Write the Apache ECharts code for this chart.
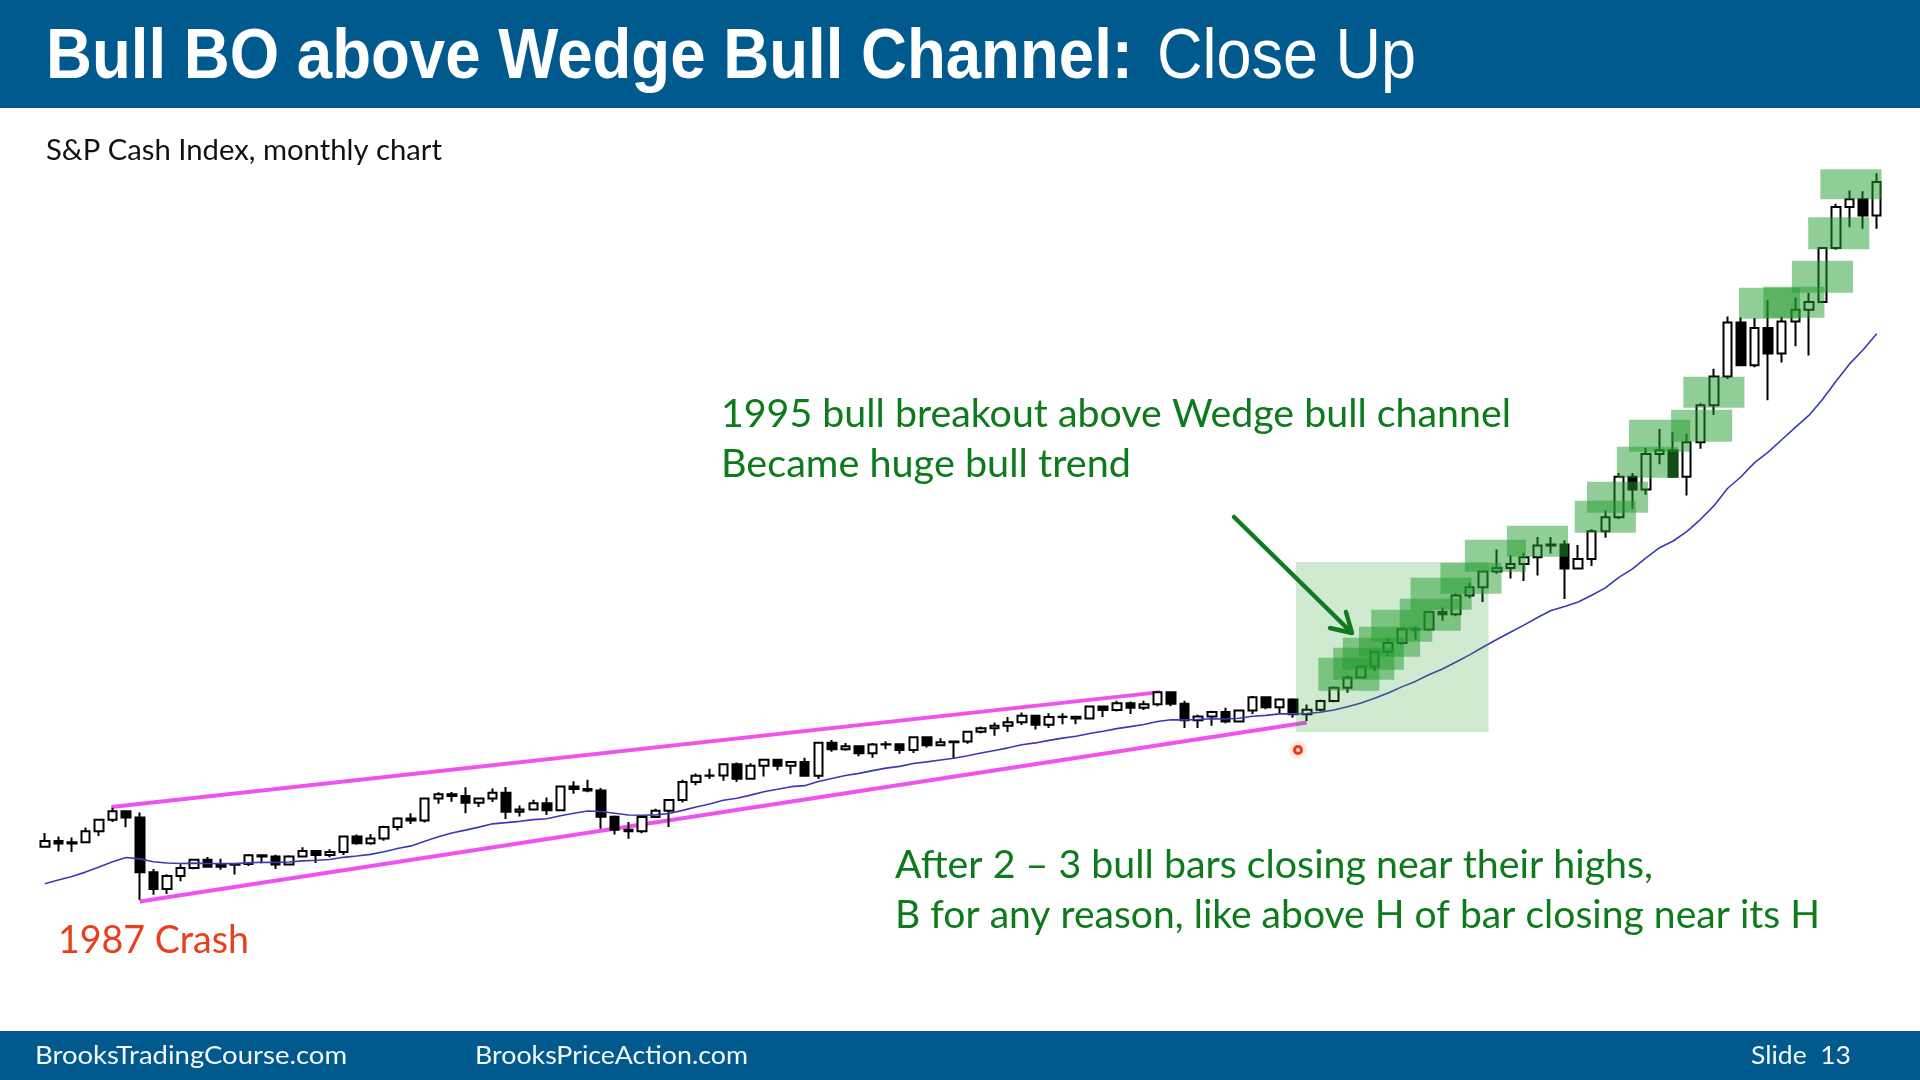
<!DOCTYPE html>
<html><head><meta charset="utf-8">
<script src="https://cdn.jsdelivr.net/npm/echarts@6/dist/echarts.min.js"></script>
<style>html,body{margin:0;padding:0;background:#fff}#c{width:1920px;height:1080px}</style>
</head><body><div id="c"></div>
<script>
// ---- DATA (S&P cash index, monthly, Mar 1987 .. Jun 1998) ----
const startYear = 1987, startMonth = 3, barCount = 136;
const months = [];
for (let i = 0; i < barCount; i++) {
  const m = (startMonth - 1 + i) % 12 + 1, y = startYear + Math.floor((startMonth - 1 + i) / 12);
  months.push(y + '-' + (m < 10 ? '0' : '') + m);
}
const opens = [
  284.2,291.7,288.4,290.1,304.0,318.7,329.8,321.8,251.8,230.3,
  247.1,257.1,267.8,258.9,261.3,262.2,273.5,272.0,261.5,271.9,279.0,273.7,
  277.7,297.5,288.9,294.9,309.6,320.5,318.0,346.1,351.5,349.2,340.4,346.0,
  353.4,329.1,331.9,339.9,330.8,361.2,358.0,356.2,322.6,306.1,304.0,322.2,
  330.2,343.9,367.1,375.2,375.4,389.8,371.2,387.8,395.4,387.9,392.5,375.2,
  417.1,408.8,412.7,403.7,415.0,415.4,408.1,424.2,414.0,417.8,418.7,431.4,
  435.7,438.8,443.4,451.7,440.2,450.2,450.5,448.1,463.6,458.9,467.8,461.8,
  466.5,481.6,467.1,445.8,450.9,456.5,444.3,458.3,475.5,462.7,472.4,453.7,
  459.3,470.4,487.4,500.7,514.7,533.4,544.8,562.1,561.9,584.4,581.5,605.4,
  615.9,636.0,640.4,645.5,654.2,669.1,670.6,640.0,652.0,687.3,705.3,757.0,
  740.7,786.2,790.8,757.1,801.3,848.3,885.1,954.3,899.5,947.3,914.6,955.4,
  970.4,980.3,1049.3,1101.8,1111.8,1090.8
];
const closes = [
  291.7,288.4,290.1,304.0,318.7,329.8,321.8,251.8,230.3,247.1,
  257.1,267.8,258.9,261.3,262.2,273.5,272.0,261.5,271.9,279.0,273.7,277.7,
  297.5,288.9,294.9,309.6,320.5,318.0,346.1,351.5,349.2,340.4,346.0,353.4,
  329.1,331.9,339.9,330.8,361.2,358.0,356.2,322.6,306.1,304.0,322.2,330.2,
  343.9,367.1,375.2,375.4,389.8,371.2,387.8,395.4,387.9,392.5,375.2,417.1,
  408.8,412.7,403.7,415.0,415.4,408.1,424.2,414.0,417.8,418.7,431.4,435.7,
  438.8,443.4,451.7,440.2,450.2,450.5,448.1,463.6,458.9,467.8,461.8,466.5,
  481.6,467.1,445.8,450.9,456.5,444.3,458.3,475.5,462.7,472.4,453.7,459.3,
  470.4,487.4,500.7,514.7,533.4,544.8,562.1,561.9,584.4,581.5,605.4,615.9,
  636.0,640.4,645.5,654.2,669.1,670.6,640.0,652.0,687.3,705.3,757.0,740.7,
  786.2,790.8,757.1,801.3,848.3,885.1,954.3,899.5,947.3,914.6,955.4,970.4,
  980.3,1049.3,1101.8,1111.8,1090.8,1133.8
];
const highs = [
  301.9,297.3,296.0,309.0,320.0,334.0,330.5,328.0,255.8,249.2,
  262.0,268.6,271.3,269.1,263.0,275.0,274.4,274.0,273.3,283.7,280.1,281.1,
  298.0,300.0,300.5,311.0,322.0,327.0,346.9,354.1,354.2,360.4,347.0,358.8,
  360.6,337.0,344.5,347.3,362.3,368.0,369.8,359.5,324.4,316.0,323.0,333.0,
  344.0,370.0,378.0,384.0,390.9,392.0,391.0,396.6,396.0,393.0,398.0,418.0,
  420.8,417.0,413.0,417.0,419.0,416.0,425.0,425.1,423.0,419.0,432.0,438.0,
  443.0,450.0,456.0,452.0,455.0,455.0,451.0,464.0,464.0,471.0,470.0,471.0,
  483.0,482.9,471.0,453.0,458.0,462.0,459.0,477.0,476.0,474.0,474.0,466.0,
  472.0,489.0,503.0,515.0,534.0,551.0,563.0,566.0,586.0,590.0,608.0,622.0,
  636.0,664.0,657.0,660.0,680.0,680.0,676.0,670.0,690.0,714.0,762.0,762.0,
  794.0,818.0,814.0,812.0,851.0,895.0,962.0,961.0,960.0,983.0,962.0,986.0,
  992.0,1050.0,1106.0,1123.0,1122.0,1145.0
];
const lows = [
  283.0,278.2,277.6,288.7,297.9,316.0,309.3,216.5,223.0,223.9,
  240.2,255.6,257.8,255.0,248.9,259.6,263.1,256.0,261.3,270.5,263.7,271.0,
  273.8,287.0,286.9,292.0,305.0,313.4,315.2,339.3,341.9,327.1,335.0,341.4,
  319.8,322.9,330.9,324.8,330.8,352.0,354.0,307.4,300.0,294.5,301.6,321.0,
  309.4,340.9,363.0,371.0,368.6,367.0,371.0,374.0,382.0,376.8,374.0,371.0,
  405.8,407.0,400.0,398.0,409.0,403.0,404.0,411.0,413.0,397.0,416.0,429.0,
  426.0,431.0,440.0,434.0,436.0,441.0,441.0,447.0,450.0,457.0,454.0,459.0,
  464.0,464.0,436.0,435.9,439.0,442.0,444.0,454.0,460.0,455.0,449.0,445.0,
  457.0,469.0,481.0,500.0,509.0,528.0,542.0,549.0,560.0,573.0,579.0,602.0,
  597.0,633.0,627.0,624.0,631.0,659.0,601.0,639.0,643.0,679.0,703.0,716.0,
  734.0,773.0,756.0,733.0,793.0,836.0,882.0,899.0,897.0,855.0,903.0,924.0,
  912.0,979.0,1047.0,1076.0,1074.0,1074.0
];
// 20-bar exponential moving average
const ema20 = [
  237.0,241.8,246.4,251.9,258.3,265.2,270.6,268.8,265.2,263.5,
  262.9,263.4,262.9,262.8,262.7,263.7,264.5,264.2,264.9,266.3,267.0,268.0,
  270.8,272.5,274.6,277.9,282.0,285.4,291.2,297.0,302.0,305.6,309.4,313.6,
  315.1,316.8,319.0,320.1,324.0,327.2,330.0,329.3,327.1,324.9,324.6,325.1,
  326.9,330.8,335.0,338.9,343.7,346.3,350.3,354.6,357.8,361.1,362.4,367.6,
  371.5,375.4,378.1,381.6,384.8,387.0,390.6,392.8,395.2,397.4,400.6,404.0,
  407.3,410.7,414.6,417.0,420.2,423.1,425.5,429.1,431.9,435.3,437.8,440.5,
  444.4,446.6,446.5,446.9,447.8,447.5,448.5,451.1,452.2,454.1,454.1,454.6,
  456.1,459.1,463.1,468.0,474.2,480.9,488.6,495.6,504.1,511.4,520.4,529.5,
  539.6,549.2,558.4,567.5,577.2,586.1,591.2,597.0,605.6,615.1,628.6,639.3,
  653.3,666.4,675.0,687.0,702.4,719.8,742.1,757.1,775.2,788.5,804.4,820.2,
  835.4,855.8,879.2,901.3,919.4,939.8
];
// wedge trend lines: [bar index, price]
const wedgeUpper = [[4.9, 335.0], [82.2, 481.9]];
const wedgeLower = [[7.0, 214.3], [93.0, 443.1]];
// breakout zone: [from bar, to bar, low price, high price]
const breakoutBox = [[92.2, 106.4, 430.9, 648.2]];
// buy zones above bull bars: [centre bar, low price, high price]
const zoneBoxes = [
  [96.1,483.6,525.7],[97.2,497.6,538.5],[97.9,510.4,551.3],[99.1,527.0,565.3],
  [100.0,546.2,587.1],[102.1,560.2,601.1],[102.9,587.1,627.9],[105.1,607.5,647.1],
  [106.9,635.6,676.5],[110.0,654.8,694.4],[115.0,685.4,726.3],[115.9,711.0,750.6],
  [118.1,755.7,795.3],[119.0,788.9,829.8],[122.1,801.7,842.6],[123.0,845.2,884.8],
  [127.1,958.9,998.5],[128.9,960.2,999.8],[131.0,992.1,1033.0],[132.2,1047.9,1088.8],
  [133.1,1111.8,1150.1]
];

// ---- helpers ----
const ohlc = opens.map((o, i) => [o, closes[i], lows[i], highs[i]]);
const ctx = document.createElement('canvas').getContext('2d');
function measure(text, font) { ctx.font = font; ctx.textBaseline = 'alphabetic'; return ctx.measureText(text).width; }
function midOffset(font) {
  ctx.font = font; ctx.textBaseline = 'alphabetic';
  const a = ctx.measureText('H').actualBoundingBoxAscent;
  ctx.textBaseline = 'middle';
  const b = ctx.measureText('H').actualBoundingBoxAscent;
  ctx.textBaseline = 'alphabetic';
  return a - b;
}
function txt(text, x, baseline, font, fill, targetW) {
  const s = targetW / measure(text, font);
  return { type: 'text', x: x, y: baseline - midOffset(font), scaleX: s, z: 50,
    style: { text: text, font: font, fill: fill, align: 'left', verticalAlign: 'middle' } };
}
const GREEN = '#0d7a1c';
const LATO = '"Lato","Open Sans",sans-serif';
const BOX_W = 4.5;

const chart = echarts.init(document.getElementById('c'), null, { renderer: 'canvas' });
chart.setOption({
  animation: false,
  backgroundColor: '#ffffff',
  grid: { left: 38, right: 36.5, top: 91, bottom: 89 },
  xAxis: [
    { type: 'category', data: months, show: false, boundaryGap: true },
    { type: 'value', min: -0.5, max: 135.5, show: false }
  ],
  yAxis: { type: 'value', min: 100, max: 1250, show: false },
  series: [
    { type: 'line', xAxisIndex: 1, data: wedgeUpper, symbol: 'none', silent: true, z: 1,
      lineStyle: { color: '#f052ec', width: 4 } },
    { type: 'line', xAxisIndex: 1, data: wedgeLower, symbol: 'none', silent: true, z: 1,
      lineStyle: { color: '#f052ec', width: 4 } },
    { type: 'candlestick', data: ohlc, barWidth: 9, z: 2,
      itemStyle: { color: '#ffffff', color0: '#000000', borderColor: '#000000', borderColor0: '#000000', borderWidth: 2 } },
    { type: 'line', data: ema20, symbol: 'none', z: 3, silent: true,
      lineStyle: { color: '#3a3ab4', width: 1.6 } },
    { type: 'custom', xAxisIndex: 1, data: breakoutBox, z: 4, silent: true,
      encode: { x: [0, 1], y: [2, 3] },
      renderItem: function (params, api) {
        const p1 = api.coord([api.value(0), api.value(3)]);
        const p2 = api.coord([api.value(1), api.value(2)]);
        return { type: 'rect', shape: { x: p1[0], y: p1[1], width: p2[0] - p1[0], height: p2[1] - p1[1] },
          style: { fill: 'rgba(40,160,50,0.22)' } };
      } },
    { type: 'custom', xAxisIndex: 1, data: zoneBoxes, z: 5, silent: true,
      encode: { x: 0, y: [1, 2] },
      renderItem: function (params, api) {
        const c = api.value(0);
        const p1 = api.coord([c - BOX_W / 2, api.value(2)]);
        const p2 = api.coord([c + BOX_W / 2, api.value(1)]);
        return { type: 'rect', shape: { x: p1[0], y: p1[1], width: p2[0] - p1[0], height: p2[1] - p1[1] },
          style: { fill: 'rgba(35,155,45,0.5)' } };
      } }
  ],
  graphic: [
    { type: 'rect', z: 40, shape: { x: 0, y: 0, width: 1920, height: 108 }, style: { fill: '#015a8e' } },
    { type: 'rect', z: 40, shape: { x: 0, y: 1031, width: 1920, height: 49 }, style: { fill: '#015a8e' } },
    txt('Bull BO above Wedge Bull Channel:', 46, 78, 'bold 70px "Liberation Sans",Arial,sans-serif', '#ffffff', 1087),
    txt('Close Up', 1157, 78, '70px "Liberation Sans",Arial,sans-serif', '#ffffff', 259),
    txt('S&P Cash Index, monthly chart', 46, 160, '28px ' + LATO, '#111111', 396),
    txt('1995 bull breakout above Wedge bull channel', 721, 427, '38px ' + LATO, GREEN, 790),
    txt('Became huge bull trend', 721, 477, '38px ' + LATO, GREEN, 410),
    txt('After 2 \u2013 3 bull bars closing near their highs,', 895, 878, '38px ' + LATO, GREEN, 758),
    txt('B for any reason, like above H of bar closing near its H', 895, 928, '38px ' + LATO, GREEN, 925),
    txt('1987 Crash', 58, 953, '38px ' + LATO, '#e8401c', 191),
    txt('BrooksTradingCourse.com', 35, 1064, '25px ' + LATO, '#f4f8fc', 312),
    txt('BrooksPriceAction.com', 475, 1064, '25px ' + LATO, '#f4f8fc', 273),
    txt('Slide  13', 1751, 1064, '25px ' + LATO, '#f4f8fc', 100),
    // arrow
    { type: 'line', z: 60, shape: { x1: 1234, y1: 517, x2: 1351, y2: 632 },
      style: { stroke: '#0f7a1f', lineWidth: 4.5, lineCap: 'round' } },
    { type: 'polyline', z: 60, shape: { points: [[1346, 612], [1352, 633], [1330, 628]] },
      style: { stroke: '#0f7a1f', lineWidth: 4.5, lineCap: 'round', lineJoin: 'round', fill: null } },
    // cursor dot
    { type: 'circle', z: 60, shape: { cx: 1298, cy: 750, r: 11 },
      style: { fill: { type: 'radial', x: 0.5, y: 0.5, r: 0.5,
        colorStops: [{ offset: 0, color: 'rgba(255,110,90,0.45)' }, { offset: 1, color: 'rgba(255,110,90,0)' }] } } },
    { type: 'circle', z: 61, shape: { cx: 1298, cy: 750, r: 3.5 },
      style: { fill: '#ffd6cc', stroke: '#e0401e', lineWidth: 3 } }
  ]
});
</script></body></html>
